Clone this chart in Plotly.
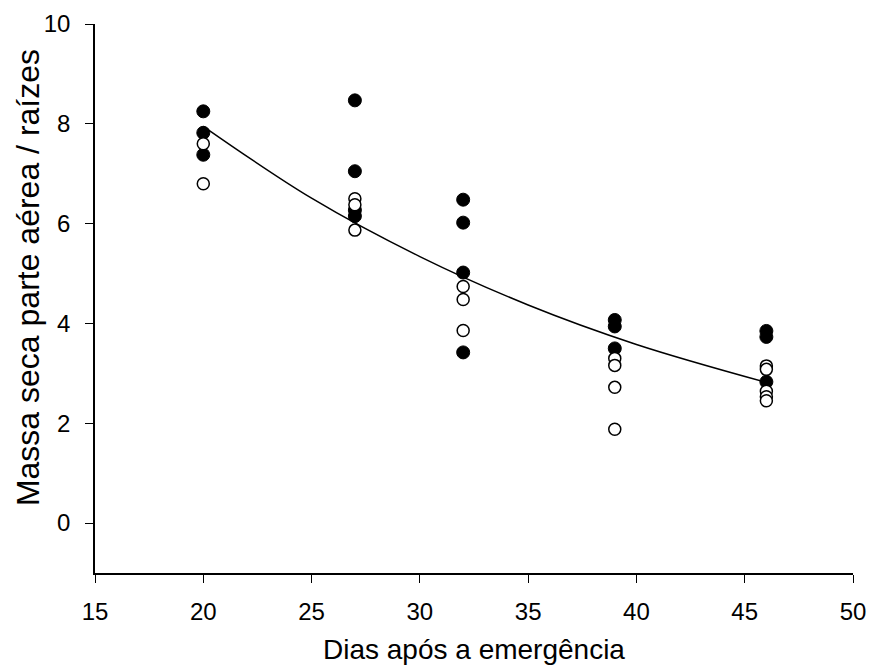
import plotly.graph_objects as go

# Filled circles (series 1)
filled_x = [20, 20, 20, 27, 27, 27, 27, 32, 32, 32, 32, 39, 39, 39, 46, 46, 46]
filled_y = [8.25, 7.82, 7.38, 8.47, 7.05, 6.27, 6.15, 6.48, 6.02, 5.02, 3.42, 4.07, 3.94, 3.50, 3.85, 3.73, 2.83]

# Open circles (series 2)
open_x = [20, 20, 27, 27, 27, 32, 32, 32, 39, 39, 39, 39, 46, 46, 46, 46, 46]
open_y = [7.60, 6.80, 6.50, 6.38, 5.87, 4.74, 4.48, 3.86, 3.30, 3.16, 2.72, 1.88, 3.15, 3.08, 2.64, 2.53, 2.45]

# Fitted curve
curve_x = [20, 25, 30, 35, 40, 46]
curve_y = [7.95, 6.51, 5.34, 4.37, 3.58, 2.82]

x_ticks = [15, 20, 25, 30, 35, 40, 45, 50]
y_ticks = [0, 2, 4, 6, 8, 10]
x_title = "Dias após a emergência"
y_title = "Massa seca parte aérea / raízes"

font_family = "Liberation Sans, Arial, Helvetica, sans-serif"

fig = go.Figure()
fig.add_trace(go.Scatter(x=curve_x, y=curve_y, mode="lines",
                         line=dict(color="black", width=1.5, shape="spline", smoothing=1.0),
                         showlegend=False, hoverinfo="skip"))
fig.add_trace(go.Scatter(x=filled_x, y=filled_y, mode="markers",
                         marker=dict(symbol="circle", size=13, color="black",
                                     line=dict(color="black", width=1)),
                         showlegend=False))
fig.add_trace(go.Scatter(x=open_x, y=open_y, mode="markers",
                         marker=dict(symbol="circle", size=12, color="white",
                                     line=dict(color="black", width=1.5)),
                         showlegend=False))

fig.update_layout(
    width=871, height=666,
    margin=dict(l=95, r=18, t=24, b=93),
    plot_bgcolor="white", paper_bgcolor="white",
    font=dict(family=font_family, color="black", size=24),
)
fig.update_xaxes(
    range=[15, 50], tickvals=x_ticks, automargin=False,
    showgrid=False, zeroline=False, showline=True, linecolor="black", linewidth=1.5,
    ticks="outside", ticklen=8, tickwidth=1.2, tickcolor="black",
    tickfont=dict(family=font_family, size=24, color="black"), ticklabelstandoff=8,
)
fig.update_yaxes(
    range=[-1, 10], tickvals=y_ticks, automargin=False,
    showgrid=False, zeroline=False, showline=True, linecolor="black", linewidth=1.5,
    ticks="outside", ticklen=8, tickwidth=1.2, tickcolor="black",
    tickfont=dict(family=font_family, size=24, color="black"), ticklabelstandoff=10,
)
fig.add_annotation(text=x_title, xref="paper", yref="paper", x=0.5, y=-0.14,
                   xanchor="center", yanchor="middle", showarrow=False,
                   font=dict(size=28))
fig.add_annotation(text=y_title, xref="paper", yref="paper", x=-0.0884, y=0.539,
                   xanchor="center", yanchor="middle", showarrow=False, textangle=-90,
                   font=dict(size=32))

fig.write_html("out.html")
